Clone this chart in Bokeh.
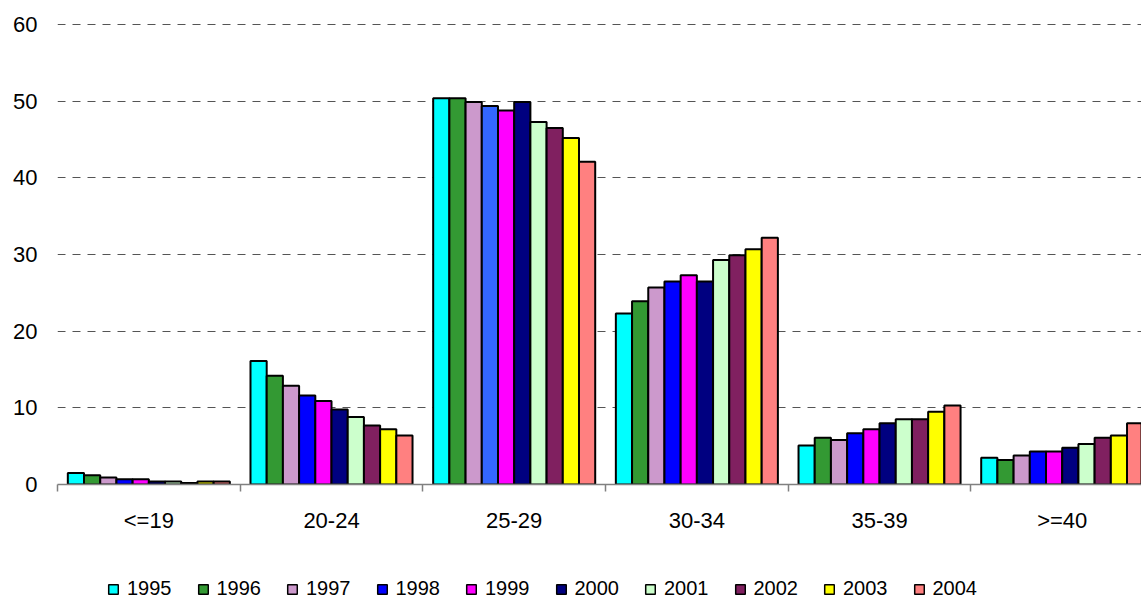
from bokeh.plotting import figure
from bokeh.layouts import column
from bokeh.models import Range1d, FixedTicker, Legend, LegendItem, ColumnDataSource
from bokeh.embed import file_html
from bokeh.resources import INLINE

groups = ["<=19", "20-24", "25-29", "30-34", "35-39", ">=40"]
years = ["1995", "1996", "1997", "1998", "1999", "2000", "2001", "2002", "2003", "2004"]

v1995 = [1.5, 16.1, 50.4, 22.3, 5.1, 3.5]
v1996 = [1.2, 14.2, 50.4, 23.9, 6.1, 3.2]
v1997 = [0.9, 12.9, 49.9, 25.7, 5.8, 3.8]
v1998 = [0.7, 11.6, 49.4, 26.5, 6.7, 4.3]
v1999 = [0.7, 10.9, 48.8, 27.3, 7.2, 4.3]
v2000 = [0.4, 9.8, 49.9, 26.5, 8.0, 4.8]
v2001 = [0.4, 8.8, 47.3, 29.3, 8.5, 5.3]
v2002 = [0.2, 7.7, 46.5, 29.9, 8.5, 6.1]
v2003 = [0.4, 7.2, 45.2, 30.7, 9.5, 6.4]
v2004 = [0.4, 6.4, 42.1, 32.2, 10.3, 8.0]
series = [v1995, v1996, v1997, v1998, v1999, v2000, v2001, v2002, v2003, v2004]

colors = ["#00FFFF", "#339933", "#CC99CC", "#0000FF", "#FF00FF",
          "#000080", "#CCFFCC", "#802060", "#FFFF00", "#FF8080"]
# the 1998 bar of the 25-29 group is drawn in a lighter blue in the source
bar_colors_1998 = ["#0000FF", "#0000FF", "#3366FF", "#0000FF", "#0000FF", "#0000FF"]

FONT = "Liberation Sans"

p = figure(width=1141, height=560, output_backend="svg", toolbar_location=None,
           x_range=Range1d(0, 5.934), y_range=Range1d(0, 60.15),
           min_border_left=57, min_border_right=0, min_border_top=23, min_border_bottom=76)
p.outline_line_color = None
p.background_fill_color = "white"

# legend strip below the chart; its swatch renderers are hidden
lf = figure(width=1141, height=40, output_backend="svg", toolbar_location=None,
            x_range=Range1d(0, 5.934), y_range=Range1d(0, 60),
            x_axis_location=None, y_axis_location=None,
            min_border_left=57, min_border_right=0, min_border_top=0, min_border_bottom=0)
lf.outline_line_color = None
lf.grid.visible = False

bar_w = 0.0887
items = []
for j, (yr, vals) in enumerate(zip(years, series)):
    xs = [i + 0.5 + bar_w * (j - 4.5) for i in range(len(groups))]
    cols = bar_colors_1998 if yr == "1998" else [colors[j]] * len(groups)
    src = ColumnDataSource(dict(x=xs, top=vals, color=cols))
    p.vbar(x="x", top="top", bottom=0, width=bar_w, source=src,
           fill_color="color", line_color="black", line_width=2)
    r2 = lf.vbar(x="x", top="top", bottom=0, width=bar_w, source=src,
                 fill_color="color", line_color="black", line_width=1.5)
    r2.visible = False
    items.append(LegendItem(label=yr, renderers=[r2]))

# x axis
p.xaxis.ticker = FixedTicker(ticks=[i + 0.5 for i in range(len(groups))],
                             minor_ticks=list(range(len(groups) + 1)))
p.xaxis.major_label_overrides = {i + 0.5: g for i, g in enumerate(groups)}
p.xaxis.major_tick_line_color = None
p.xaxis.major_tick_out = 0
p.xaxis.major_tick_in = 0
p.xaxis.minor_tick_line_color = "#808080"
p.xaxis.minor_tick_line_width = 1.5
p.xaxis.minor_tick_out = 7
p.xaxis.minor_tick_in = 0
p.xaxis.axis_line_color = "#808080"
p.xaxis.axis_line_width = 1.5
p.xaxis.major_label_standoff = 16
p.xaxis.major_label_text_font = FONT
p.xaxis.major_label_text_font_size = "22px"
p.xaxis.major_label_text_color = "black"

# y axis
p.yaxis.ticker = FixedTicker(ticks=[0, 10, 20, 30, 40, 50, 60])
p.yaxis.axis_line_color = None
p.yaxis.major_tick_line_color = None
p.yaxis.major_tick_out = 0
p.yaxis.major_tick_in = 0
p.yaxis.minor_tick_line_color = None
p.yaxis.major_label_standoff = 20
p.yaxis.major_label_text_font = FONT
p.yaxis.major_label_text_font_size = "22px"
p.yaxis.major_label_text_color = "black"

p.xgrid.visible = False
p.ygrid.grid_line_color = "#555555"
p.ygrid.grid_line_dash = "8 7"
p.ygrid.grid_line_width = 1

legend = Legend(items=items, orientation="horizontal", location=(50, 0),
                label_text_font=FONT, label_text_font_size="20px",
                label_text_color="black", click_policy="none",
                glyph_width=12, glyph_height=12, label_standoff=8, spacing=25,
                padding=0, margin=0, border_line_color=None,
                background_fill_alpha=0, label_height=20)
lf.add_layout(legend, "center")

open("out.html", "w").write(file_html(column(p, lf), INLINE))
